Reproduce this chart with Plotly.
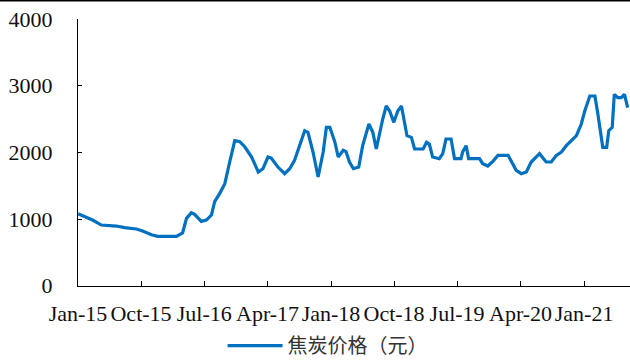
import plotly.graph_objects as go

# Coke price series (yuan / tonne)
dates = [
    "2015-01-01", "2015-01-22", "2015-03-05", "2015-04-12", "2015-06-16", "2015-07-22",
    "2015-09-11", "2015-10-08", "2015-11-15", "2015-12-12", "2016-03-02", "2016-03-29",
    "2016-04-15", "2016-05-06", "2016-05-20", "2016-06-18", "2016-07-10", "2016-08-01",
    "2016-08-15", "2016-09-06", "2016-09-28", "2016-10-19", "2016-11-10", "2016-12-02",
    "2016-12-24", "2017-01-22", "2017-02-20", "2017-03-12", "2017-04-03", "2017-04-17",
    "2017-05-16", "2017-06-14", "2017-07-06", "2017-07-27", "2017-08-18", "2017-09-09",
    "2017-09-23", "2017-10-15", "2017-11-06", "2017-11-28", "2017-12-12", "2017-12-27",
    "2018-01-18", "2018-02-01", "2018-02-23", "2018-03-07", "2018-03-22", "2018-04-08",
    "2018-05-01", "2018-05-18", "2018-06-14", "2018-07-01", "2018-07-16", "2018-07-30",
    "2018-08-13", "2018-08-28", "2018-09-12", "2018-09-30", "2018-10-17", "2018-11-02",
    "2018-11-16", "2018-11-26", "2018-12-15", "2018-12-29", "2019-02-04", "2019-02-19",
    "2019-03-03", "2019-03-17", "2019-04-15", "2019-04-30", "2019-05-14", "2019-06-05",
    "2019-06-20", "2019-07-18", "2019-07-25", "2019-08-09", "2019-08-20", "2019-10-06",
    "2019-10-20", "2019-11-11", "2019-12-03", "2019-12-25", "2020-02-07", "2020-02-21",
    "2020-03-13", "2020-04-04", "2020-04-26", "2020-05-17", "2020-06-22", "2020-07-21",
    "2020-08-12", "2020-09-03", "2020-09-25", "2020-10-16", "2020-11-07", "2020-11-29",
    "2020-12-20", "2021-01-04", "2021-01-26", "2021-02-17", "2021-03-01", "2021-03-16",
    "2021-03-23", "2021-04-09", "2021-04-18", "2021-05-03", "2021-05-12", "2021-05-27",
    "2021-06-11", "2021-06-25", "2021-07-09",
]
prices = [
    1080, 1050, 985, 910, 895, 870,
    850, 820, 765, 740, 740, 790,
    1010, 1095, 1070, 965, 985, 1060,
    1260, 1385, 1530, 1855, 2175, 2160,
    2080, 1930, 1705, 1755, 1930, 1915,
    1780, 1680, 1755, 1880, 2100, 2325,
    2300, 2005, 1630, 2005, 2375, 2375,
    2150, 1930, 2030, 2010, 1855, 1755,
    1780, 2100, 2425, 2300, 2050, 2300,
    2500, 2695, 2620, 2450, 2620, 2695,
    2450, 2250, 2225, 2050, 2050, 2150,
    2125, 1930, 1905, 1980, 2200, 2200,
    1905, 1905, 2005, 2100, 1905, 1905,
    1830, 1795, 1865, 1955, 1955, 1855,
    1730, 1680, 1705, 1855, 1980, 1855,
    1855, 1955, 2005, 2100, 2175, 2250,
    2425, 2620, 2845, 2845, 2595, 2275,
    2075, 2075, 2325, 2375, 2870, 2820,
    2820, 2870, 2670,
]

series_name = "焦炭价格（元）"
tick_dates = ["2015-01-01", "2015-10-01", "2016-07-01", "2017-04-01", "2018-01-01",
              "2018-10-01", "2019-07-01", "2020-04-01", "2021-01-01"]
tick_labels = ["Jan-15", "Oct-15", "Jul-16", "Apr-17", "Jan-18",
               "Oct-18", "Jul-19", "Apr-20", "Jan-21"]
y_ticks = [0, 1000, 2000, 3000, 4000]

serif = "Liberation Serif, Times New Roman, serif"

fig = go.Figure()
fig.add_trace(go.Scatter(
    x=dates, y=prices, mode="lines", name=series_name,
    line=dict(color="#0070C0", width=3.2),
))

fig.update_layout(
    width=630, height=360,
    margin=dict(l=78, r=0, t=19, b=72),
    paper_bgcolor="white", plot_bgcolor="white",
    showlegend=True,
    legend=dict(
        orientation="h", xref="container", yref="container",
        x=0.52, xanchor="center", y=0.04, yanchor="middle",
        font=dict(family="Noto Sans CJK SC", size=20, color="#333333"),
        itemwidth=55,
    ),
    xaxis=dict(
        type="date", range=["2015-01-01", "2021-07-19"],
        tickmode="array", tickvals=tick_dates, ticktext=tick_labels,
        tickangle=0, ticks="inside", ticklen=5, tickcolor="black",
        showline=True, linecolor="black", linewidth=1,
        showgrid=False, zeroline=False,
        tickfont=dict(family=serif, size=22, color="#111111"),
        ticklabelstandoff=8,
    ),
    yaxis=dict(
        range=[0, 4000], tickmode="array", tickvals=y_ticks,
        ticks="inside", ticklen=4, tickcolor="black",
        showline=True, linecolor="black", linewidth=1,
        showgrid=False, zeroline=False,
        tickfont=dict(family=serif, size=22, color="#111111"),
        ticklabelstandoff=20,
    ),
    shapes=[dict(type="line", xref="paper", yref="paper",
                 x0=-78 / 552, x1=1, y0=(288 - 0.5) / 269, y1=(288 - 0.5) / 269,
                 line=dict(color="black", width=1.5))],
)

fig.write_html("out.html")
